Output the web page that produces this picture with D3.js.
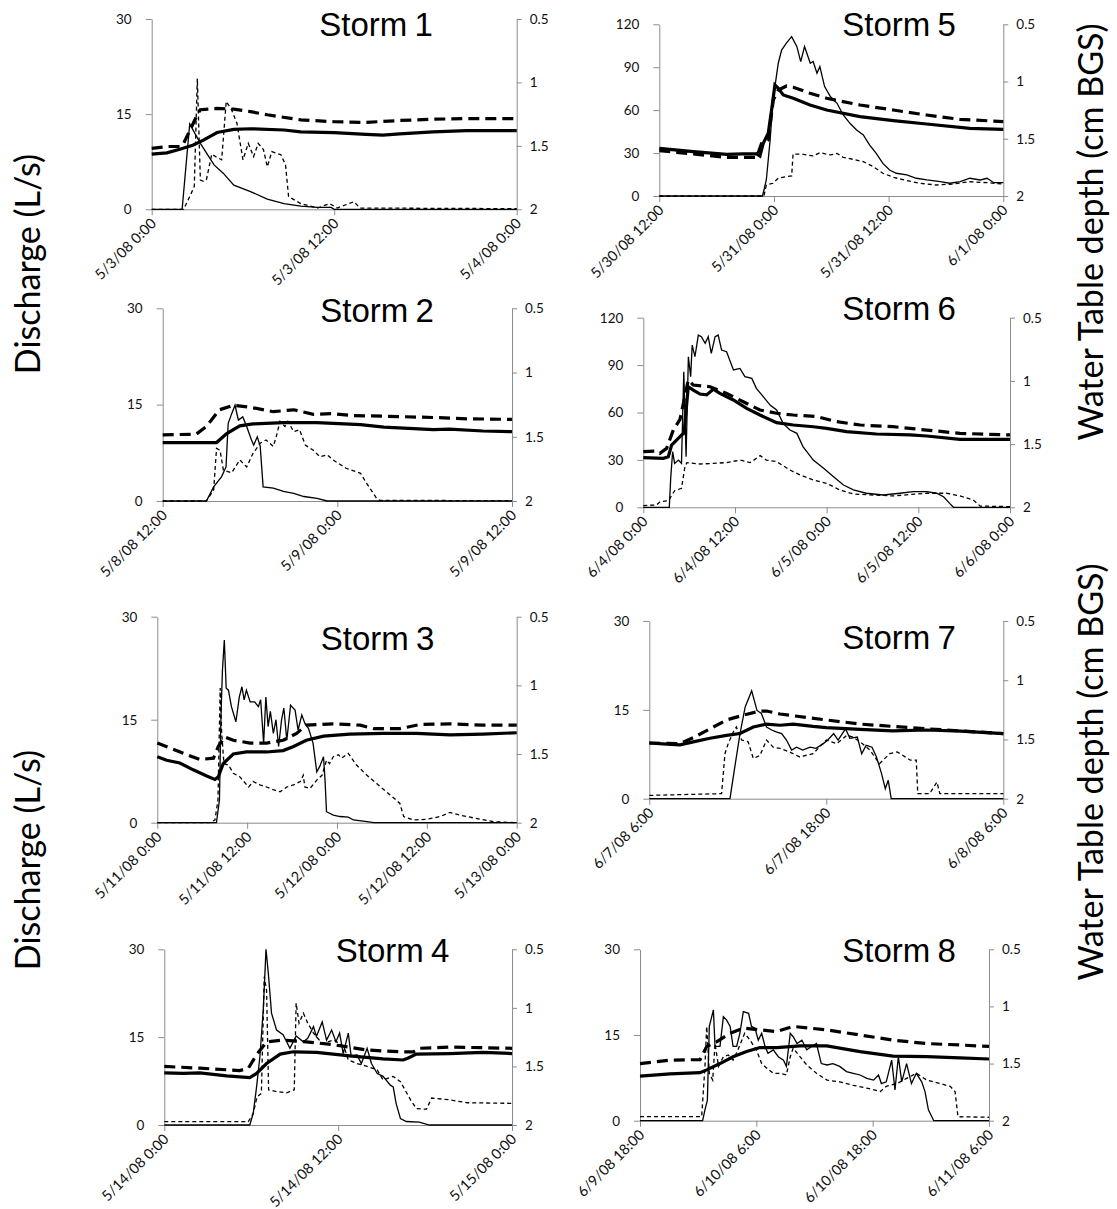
<!DOCTYPE html>
<html>
<head>
<meta charset="utf-8">
<script src="https://cdn.jsdelivr.net/npm/d3@7"></script>
<style>
body { margin: 0; background: #fff; }
svg { display: block; }
</style>
</head>
<body>
<script>

//****************************************************************************************************************************//
// Data : [hours since panel start, value]. Q = discharge (L/s), W = water table depth (right axis)

var s1QA = [[0,0],[2.0,0],[2.5,13.45],[3.2,10.4],[4.1,7.0],[4.7,5.7],[5.4,3.8],[6.5,2.8],[7.6,1.6],[8.7,0.9],[9.8,0.5],[10.9,0.3],[11.8,0.3],[12,0],[24,0]];
var s1QB = [[0,0],[2.1,0],[2.5,2.0],[2.8,3.6],[3.0,20.6],[3.2,4.6],[3.4,4.4],[3.6,4.7],[3.95,8.7],[4.2,8.3],[4.6,7.8],[4.9,17.0],[5.25,15.7],[5.6,13.6],[6.0,7.8],[6.35,10.4],[6.7,8.3],[7.0,10.4],[7.35,9.4],[7.6,6.7],[7.9,9.1],[8.5,8.6],[8.8,7.0],[9.0,2.0],[9.8,0.9],[10.9,0.2],[11.7,0.9],[12.2,0.2],[13.3,1.2],[13.7,0.2],[24,0.1]];
var s1WA = [[0,1.565],[1,1.555],[1.9,1.525],[2.7,1.495],[3.4,1.455],[4.3,1.395],[5.4,1.37],[6.5,1.365],[8.7,1.375],[9.8,1.39],[12,1.395],[14.1,1.41],[15.2,1.415],[16.3,1.405],[18.5,1.39],[20.7,1.38],[24,1.38]];
var s1WB = [[0,1.52],[1,1.505],[1.9,1.505],[2.1,1.48],[3.0,1.255],[3.2,1.215],[4.3,1.205],[5.4,1.21],[6.5,1.23],[7.6,1.255],[9.8,1.295],[12,1.31],[14.1,1.315],[16.3,1.30],[18.5,1.29],[20.7,1.285],[24,1.285]];

var s2QA = [[0,0],[3.0,0],[3.5,2.2],[4.05,3.8],[4.35,5.3],[4.5,12.1],[4.74,13.6],[4.97,14.9],[5.2,12.6],[5.5,13.1],[5.77,11.6],[6.1,9.5],[6.25,8.7],[6.5,10.0],[6.7,8.5],[6.9,2.2],[7.6,2.0],[8.3,1.5],[9.0,1.2],[9.7,0.7],[10.6,0.4],[11.3,0],[24,0]];
var s2QB = [[0,0],[3.0,0],[3.5,1.7],[3.7,8.2],[3.94,7.9],[4.17,4.8],[4.74,4.4],[5.3,6.4],[5.77,5.3],[6.2,7.4],[6.7,9.0],[7.1,9.5],[7.6,8.5],[7.8,10.0],[8.06,12.4],[8.4,11.6],[8.6,12.4],[9.0,10.8],[9.4,11.1],[9.8,8.7],[10.35,7.9],[10.8,6.9],[11.3,7.2],[11.7,6.4],[12.6,5.1],[13.6,4.3],[14.0,2.8],[14.7,0.4],[14.9,0.1],[24,0.05]];
var s2WA = [[0,1.545],[3.7,1.545],[4.4,1.475],[5.3,1.415],[6.2,1.40],[8.3,1.39],[10.6,1.39],[13.6,1.405],[15.2,1.425],[18.6,1.445],[19.7,1.44],[22.0,1.455],[24,1.46]];
var s2WB = [[0,1.485],[2.3,1.48],[3.0,1.42],[3.9,1.29],[4.85,1.255],[6.0,1.27],[7.6,1.305],[9.0,1.29],[10.35,1.325],[11.7,1.32],[13.1,1.335],[15.2,1.34],[18.6,1.35],[20.9,1.36],[24,1.365]];

var s3QA = [[0,0],[7.9,0],[8.3,3.3],[8.5,15.4],[8.7,22.2],[8.95,26.6],[9.2,19.6],[9.5,19.3],[9.9,16.9],[10.5,14.7],[10.95,18.3],[11.3,19.8],[11.6,17.9],[11.9,19.3],[12.4,17.6],[13.0,17.6],[13.5,16.9],[13.8,17.9],[14.2,11.6],[14.5,18.3],[14.8,14.0],[15.1,16.2],[15.5,13.0],[15.85,15.0],[16.2,11.1],[16.6,15.0],[16.9,16.7],[17.3,12.0],[17.8,17.1],[18.4,16.4],[18.8,13.5],[19.3,15.7],[19.7,14.5],[20.2,13.7],[20.8,11.6],[21.3,7.4],[21.7,8.2],[22.2,9.6],[22.4,6.2],[22.6,1.6],[23.5,1.1],[24.4,0.9],[25.5,0.8],[26.2,0.4],[28,0.15],[28.9,0],[48,0]];
var s3QB = [[0,0],[7.0,0],[7.7,0.4],[8.1,3.3],[8.4,19.6],[8.6,13.0],[8.9,8.6],[9.5,8.4],[10.15,7.2],[11.0,6.7],[12.2,5.2],[12.8,6.0],[13.7,5.5],[14.6,5.2],[15.5,4.8],[16.4,4.5],[17.3,5.2],[18.2,5.5],[19.1,6.0],[19.5,6.9],[19.7,5.2],[20.4,5.0],[21.3,6.2],[22.0,6.9],[22.6,9.1],[23.0,8.6],[23.5,9.6],[24.2,9.9],[24.6,9.4],[25.5,10.1],[26.6,8.4],[28,6.9],[29.3,5.7],[30.6,4.5],[31.7,3.5],[32.4,2.8],[32.9,0.9],[34.2,0.4],[36,0.5],[37.8,0.9],[39.1,1.5],[40.4,1.1],[42.7,0.6],[44.9,0.15],[48,0]];
var s3WA = [[0,1.52],[1.25,1.545],[3.0,1.565],[4.8,1.615],[6.6,1.66],[7.7,1.685],[8.15,1.665],[8.8,1.57],[10.15,1.50],[11.9,1.485],[14.6,1.485],[16.8,1.475],[18.2,1.445],[19.9,1.40],[22.2,1.37],[25.7,1.355],[30.2,1.35],[34.6,1.35],[39.1,1.36],[43.5,1.355],[48,1.345]];
var s3WB = [[0,1.42],[3.5,1.495],[5.7,1.54],[7.5,1.53],[8.15,1.445],[9.0,1.375],[10.15,1.40],[12.4,1.42],[14.6,1.42],[16.8,1.40],[18.6,1.35],[19.9,1.29],[23.5,1.28],[27.1,1.29],[28.9,1.315],[32.4,1.315],[35.1,1.285],[39.1,1.28],[43.5,1.29],[48,1.29]];

var s4QA = [[0,0],[5.9,0],[6.14,2.0],[6.37,6.5],[6.6,11.7],[6.83,19.6],[7.02,30],[7.18,25.9],[7.4,19.1],[7.75,16.2],[8.2,15.4],[8.67,13.1],[9.1,15.2],[9.6,14.2],[9.9,14.8],[10.3,16.8],[10.5,15.1],[10.9,17.6],[11.2,14.5],[11.55,16.2],[11.85,14.2],[12.1,15.7],[12.35,12.2],[12.7,15.7],[12.9,11.7],[13.3,12.0],[13.6,10.5],[14.0,13.1],[14.3,10.5],[14.7,8.8],[15.1,8.3],[15.6,6.8],[15.8,6.5],[16.0,3.7],[16.3,1.1],[16.7,0.6],[17.6,0.5],[18.3,0],[24,0]];
var s4QB = [[0,0.57],[5.8,0.57],[6.14,2.0],[6.4,4.8],[6.7,5.4],[6.9,25.3],[7.06,23.0],[7.2,6.0],[7.75,5.7],[8.45,5.5],[8.97,6.0],[9.1,20.8],[9.3,17.4],[9.6,19.1],[9.9,17.4],[10.3,15.7],[10.9,13.9],[11.7,14.5],[12.4,13.4],[12.7,11.1],[13.3,10.5],[14.0,10.0],[14.7,9.4],[15.1,7.7],[15.8,8.3],[16.3,7.4],[17.0,4.3],[17.4,2.8],[18.1,2.7],[18.45,4.6],[19.7,4.3],[20.9,3.8],[24,3.7]];
var s4WA = [[0,1.555],[1.3,1.56],[2.46,1.555],[4.3,1.58],[5.9,1.595],[6.37,1.56],[7.06,1.475],[8.0,1.395],[8.9,1.375],[10.5,1.38],[12.8,1.41],[15.1,1.435],[16.5,1.445],[16.8,1.43],[17.4,1.395],[19.7,1.39],[22.0,1.38],[24,1.39]];
var s4WB = [[0,1.50],[2.46,1.515],[5.2,1.535],[5.8,1.515],[6.37,1.40],[7.06,1.29],[8.2,1.275],[9.8,1.29],[11.7,1.315],[14.0,1.36],[16.3,1.375],[17.2,1.375],[17.6,1.345],[19.7,1.335],[24,1.345]];

var s5QA = [[0,0],[10.8,0],[11.2,11.2],[11.6,39.2],[11.9,67],[12.45,92.8],[12.8,102],[13.3,106.8],[13.85,111.4],[14.4,104.4],[14.8,93.9],[15.2,104.4],[15.8,92.8],[16.1,94],[16.5,85.8],[16.8,90.4],[17.3,76.5],[17.9,69.5],[18.6,64.8],[19.25,56.6],[19.95,50.8],[20.65,46.2],[21.35,42.7],[22.0,35.7],[22.7,29.8],[23.4,22.8],[24.1,18.2],[24.8,15.9],[25.9,14.7],[26.9,12.4],[28.0,11.2],[29.4,10.0],[30.4,8.9],[31.5,10.0],[32.5,12.4],[33.6,11.2],[34.3,12.4],[35,9.3],[36,9.3]];
var s5QB = [[0,0],[10.95,0],[11.2,7.7],[11.9,8.9],[12.45,12.4],[13.3,13.5],[13.85,14.0],[14.0,29.4],[15.1,29.1],[16.1,28.0],[16.8,30.3],[17.9,28.7],[18.6,29.8],[19.25,27.0],[20.3,25.6],[21.35,24.0],[22.4,20.5],[23.4,15.9],[24.5,13.1],[25.9,10.7],[27.3,8.9],[29.0,7.7],[30.8,8.4],[32.5,10.0],[34.3,9.3],[36,8.4]];
var s5WA = [[0,1.584],[3.56,1.6125],[7.05,1.636],[8.79,1.6325],[10.18,1.6325],[10.53,1.65],[10.88,1.54],[11.4,1.4525],[11.75,1.249],[12.1,1.03],[12.45,1.059],[12.97,1.1175],[14.02,1.146],[15.77,1.205],[17.51,1.249],[21.0,1.306],[24.49,1.341],[27.97,1.371],[32.5,1.409],[36,1.4175]];
var s5WB = [[0,1.604],[3.56,1.6325],[7.05,1.6625],[10.18,1.6625],[10.7,1.54],[11.4,1.51],[11.93,1.161],[12.45,1.074],[13.32,1.039],[14.02,1.05],[15.77,1.1025],[17.51,1.146],[21.0,1.205],[24.49,1.249],[27.97,1.2925],[31.46,1.33],[36,1.35]];

var s6QA = [[0,0],[3.4,0],[3.6,19.4],[3.84,35.2],[4.1,27.8],[4.6,29.9],[5.0,27.8],[5.3,85.8],[5.6,32],[5.9,95.3],[6.2,82.7],[6.4,102.7],[6.76,95.3],[7.2,109],[7.6,108],[8.1,103.8],[8.5,108],[8.9,97.4],[9.4,108],[9.8,109],[10.25,99.5],[10.9,98.5],[11.8,86.9],[12.65,87.9],[13.3,82.7],[14.2,81.6],[14.8,75.3],[15.7,70.0],[16.6,64.7],[17.45,61.6],[18.3,53.1],[19.2,48.9],[20.1,46.8],[20.9,38.4],[22.25,29.9],[23.6,24.7],[24.9,19.4],[26.2,14.1],[27.5,11.0],[29.2,8.9],[31.4,7.8],[33.6,8.9],[35.3,9.9],[37.1,9.9],[38.4,8.9],[39.3,6.7],[40.1,2.5],[40.6,0],[48,0]];
var s6QB = [[0,1.05],[1.75,1.5],[2.2,3.6],[3.3,4.2],[4.1,10.5],[5.0,12.0],[5.45,25.7],[5.7,28.3],[7.4,27.4],[9.2,27.8],[10.9,28.3],[12.65,29.9],[14.0,28.3],[15.3,32.7],[16.1,29.9],[17.45,28.9],[19.2,23.6],[20.5,20.5],[22.25,17.3],[24.0,15.2],[25.7,11.0],[27.5,8.4],[30.1,7.8],[32.7,7.2],[37.1,8.9],[39.7,8.9],[41.45,7.2],[43.2,4.6],[44.1,0.8],[48,0.4]];
var s6WA = [[0,1.6075],[2.62,1.6125],[3.27,1.60],[3.71,1.5075],[5.02,1.4275],[5.32,1.415],[5.89,1.046],[6.54,1.0725],[7.42,1.104],[8.29,1.111],[9.16,1.066],[10.03,1.099],[11.78,1.151],[13.53,1.2175],[15.27,1.27],[17.45,1.33],[19.63,1.349],[22.25,1.3625],[24.0,1.375],[26.6,1.401],[30.5,1.42],[34.9,1.4275],[37.1,1.436],[41.45,1.4625],[48,1.4625]];
var s6WB = [[0,1.56],[1.75,1.555],[2.18,1.5725],[3.05,1.534],[3.93,1.389],[4.8,1.304],[5.89,0.9925],[6.54,1.0325],[8.73,1.046],[10.91,1.099],[13.09,1.165],[15.27,1.23],[17.45,1.256],[19.63,1.27],[22.69,1.2825],[25.3,1.3225],[28.4,1.349],[32.7,1.3625],[37.1,1.389],[41.45,1.415],[48,1.4275]];

var s7QA = [[0,0],[5.47,0],[5.8,5.4],[6.15,11.0],[6.5,15.5],[6.94,18.2],[7.3,14.9],[7.6,14.4],[7.95,12.1],[8.3,11.6],[8.6,11.3],[8.97,11.0],[9.3,9.9],[9.65,8.2],[9.99,8.7],[10.4,8.2],[10.9,8.7],[11.3,8.5],[11.8,9.3],[12.1,9.9],[12.5,11.0],[12.8,9.9],[13.3,11.8],[13.6,10.2],[14.1,10.4],[14.4,7.6],[14.7,9.0],[15.1,8.7],[15.4,7.05],[15.75,4.2],[16.0,1.7],[16.2,3.1],[16.4,0],[24,0]];
var s7QB = [[0,0.56],[4.9,0.85],[5.13,7.6],[5.35,9.3],[5.7,11.3],[5.9,12.1],[6.26,9.9],[6.7,9.6],[7.05,6.8],[7.5,7.3],[7.95,9.9],[8.4,8.7],[8.86,8.5],[9.5,7.9],[10.2,7.05],[11.1,7.6],[12.0,9.9],[12.7,9.3],[13.4,10.7],[13.8,10.4],[14.3,9.6],[14.96,8.2],[15.6,5.9],[16.3,7.6],[16.8,7.9],[17.2,7.3],[17.7,6.5],[18.1,6.5],[18.2,0.85],[19.0,0.85],[19.5,2.8],[19.7,0.85],[24,0.85]];
var s7WA = [[0,1.53],[1.18,1.54],[2.08,1.545],[2.98,1.52],[4.11,1.49],[5.24,1.465],[6.15,1.45],[7.05,1.395],[7.95,1.37],[8.86,1.38],[9.76,1.37],[11.1,1.39],[12.0,1.40],[14.3,1.415],[16.5,1.4275],[18.8,1.42],[21.1,1.43],[24,1.45]];
var s7WB = [[0,1.53],[2.08,1.535],[2.98,1.485],[4.11,1.41],[5.24,1.335],[6.37,1.295],[7.5,1.26],[7.95,1.26],[8.86,1.285],[9.76,1.30],[12.0,1.335],[14.3,1.37],[16.5,1.39],[18.8,1.41],[21.1,1.4275],[24,1.45]];

var s8QA = [[0,0],[6.46,0],[6.7,1.9],[6.95,3.6],[7.15,16.5],[7.4,18.2],[7.57,19.4],[7.74,13.0],[8.25,13.0],[8.6,18.2],[8.94,17.6],[9.3,16.5],[9.6,13.0],[9.97,13.0],[10.3,15.3],[10.66,19.1],[11.2,18.8],[11.5,16.5],[11.86,16.2],[12.2,14.1],[12.55,15.3],[12.9,13.0],[13.2,11.8],[13.75,12.4],[14.27,11.2],[14.8,10.6],[15.1,9.5],[15.5,15.3],[15.8,14.7],[16.2,13.5],[16.7,14.1],[17.2,12.4],[17.7,13.0],[18.2,13.5],[18.7,10.0],[19.3,9.75],[19.9,10.0],[20.6,9.5],[21.3,8.6],[22.0,8.3],[22.7,8.0],[23.4,7.4],[24.1,7.1],[24.6,8.0],[24.9,6.5],[25.4,6.8],[25.96,10.6],[26.3,5.4],[26.65,11.2],[27.0,6.8],[27.5,10.0],[28.0,6.5],[28.5,8.3],[29.06,6.8],[29.4,5.1],[29.75,1.9],[30.3,0],[36,0]];
var s8QB = [[0,0.7],[6.36,0.7],[6.7,9.5],[6.88,16.5],[7.15,8.3],[7.5,7.1],[7.74,13.5],[8.1,9.5],[8.6,11.2],[9.1,11.5],[9.6,10.6],[10.1,12.4],[10.8,15.3],[11.35,14.1],[12.0,12.4],[12.55,10.0],[13.07,9.2],[13.75,8.3],[14.4,8.3],[15.1,8.0],[15.5,11.2],[15.8,12.7],[16.5,11.2],[17.2,9.75],[18.2,8.3],[19.3,7.1],[20.6,6.8],[22.0,6.2],[23.4,5.7],[24.8,5.1],[25.4,6.0],[26.5,6.5],[27.5,7.4],[28.5,8.3],[29.6,7.1],[30.95,6.5],[32.0,6.0],[32.5,5.1],[32.8,0.7],[36,0.6]];
var s8WA = [[0,1.61],[3.1,1.59],[6.19,1.58],[6.88,1.555],[8.25,1.50],[9.6,1.44],[11.0,1.395],[12.38,1.36],[14.1,1.36],[16.5,1.345],[19.26,1.345],[22.7,1.395],[26.1,1.435],[29.6,1.44],[33.0,1.45],[36,1.46]];
var s8WB = [[0,1.50],[3.1,1.47],[6.19,1.465],[6.88,1.35],[7.9,1.31],[9.28,1.235],[10.66,1.19],[12.38,1.205],[14.1,1.22],[15.8,1.175],[19.26,1.205],[22.7,1.25],[26.1,1.295],[29.6,1.325],[33.0,1.3375],[36,1.35]];

// tick values
var qTicksSmall = [0, 15, 30];
var qTicksLarge = [0, 30, 60, 90, 120];
var depthTicks = [0.5, 1, 1.5, 2];

var stormNames = ["Storm 1", "Storm 2", "Storm 3", "Storm 4", "Storm 5", "Storm 6", "Storm 7", "Storm 8"];
var stormStarts = ["2008-05-03T00:00", "2008-05-08T12:00", "2008-05-11T00:00", "2008-05-14T00:00",
                   "2008-05-30T12:00", "2008-06-04T00:00", "2008-06-07T06:00", "2008-06-09T18:00"];
var stormHours = [24, 24, 48, 24, 36, 48, 24, 36];

//****************************************************************************************************************************//
// Layout

var width = 1117, height = 1209;

var panels = [
	{ left: 151.7, right: 516.7, top: 19,    bottom: 209.3,  tx: 376,   ty: 36 },
	{ left: 162.7, right: 512,   top: 308.3, bottom: 501,    tx: 377,   ty: 322 },
	{ left: 157.3, right: 516.7, top: 616.7, bottom: 822.7,  tx: 377.5, ty: 650 },
	{ left: 164.3, right: 512,   top: 949.3, bottom: 1125,   tx: 392.5, ty: 962 },
	{ left: 659.3, right: 1003.3, top: 24.3, bottom: 196,    tx: 899,   ty: 36 },
	{ left: 643.3, right: 1010,  top: 317.7, bottom: 507.3,  tx: 899,   ty: 320 },
	{ left: 649.3, right: 1003.3, top: 621,  bottom: 798.7,  tx: 899,   ty: 649 },
	{ left: 640,   right: 989,   top: 949.3, bottom: 1120.7, tx: 899,   ty: 962 }
];

var storms = [
	{ qTicks: qTicksSmall, qA: s1QA, qB: s1QB, wA: s1WA, wB: s1WB },
	{ qTicks: qTicksSmall, qA: s2QA, qB: s2QB, wA: s2WA, wB: s2WB },
	{ qTicks: qTicksSmall, qA: s3QA, qB: s3QB, wA: s3WA, wB: s3WB },
	{ qTicks: qTicksSmall, qA: s4QA, qB: s4QB, wA: s4WA, wB: s4WB },
	{ qTicks: qTicksLarge, qA: s5QA, qB: s5QB, wA: s5WA, wB: s5WB },
	{ qTicks: qTicksLarge, qA: s6QA, qB: s6QB, wA: s6WA, wB: s6WB },
	{ qTicks: qTicksSmall, qA: s7QA, qB: s7QB, wA: s7WA, wB: s7WB },
	{ qTicks: qTicksSmall, qA: s8QA, qB: s8QB, wA: s8WA, wB: s8WB }
];

var axisColor = "#8c8c8c";
var labelFont = "Lato, 'Open Sans', sans-serif";
var titleFont = "'Liberation Sans', Arial, sans-serif";
var dateFormat = d3.timeFormat("%-m/%-d/%y %-H:%M");

var canvas = d3.select("body").append("svg")
				.attr("width", width)
				.attr("height", height);

canvas.append("rect")
		.attr("width", width)
		.attr("height", height)
		.attr("fill", "white");

storms.forEach(function(s, i){ drawStorm(s, i, panels[i]); });

//****************************************************************************************************************************//
// Axis titles

var axisTitles = [
	{ text: "Discharge (L/s)",            x: 40,   y: 264 },
	{ text: "Discharge (L/s)",            x: 40,   y: 860 },
	{ text: "Water Table depth (cm BGS)", x: 1103, y: 232 },
	{ text: "Water Table depth (cm BGS)", x: 1103, y: 772 }
];

axisTitles.forEach(function(t){
	canvas.append("text")
		.attr("transform", "translate(" + t.x + "," + t.y + ") rotate(-90)")
		.attr("text-anchor", "middle")
		.style("font-family", labelFont)
		.style("font-size", "34px")
		.text(t.text);
});

//****************************************************************************************************************************//
// One storm panel

function drawStorm(s, i, p){

	var start = new Date(stormStarts[i]);
	var hours = stormHours[i];
	var toDate = function(h){ return new Date(start.getTime() + h*3600e3); };

	var x = d3.scaleTime()
				.domain([start, toDate(hours)])
				.range([p.left, p.right]);

	var yQ = d3.scaleLinear()
				.domain([0, s.qTicks[s.qTicks.length-1]])
				.range([p.bottom, p.top]);

	var yD = d3.scaleLinear()
				.domain([2, 0.5])
				.range([p.bottom, p.top]);

	var pane = canvas.append("g");

	// left axis
	var leftAxis = pane.append("g")
				.attr("transform", "translate(" + p.left + ",0)")
				.call(d3.axisLeft(yQ).tickValues(s.qTicks).tickSize(6).tickSizeOuter(0).tickPadding(14));

	// right axis
	var rightAxis = pane.append("g")
				.attr("transform", "translate(" + p.right + ",0)")
				.call(d3.axisRight(yD).tickValues(depthTicks).tickFormat(String).tickSize(5).tickSizeOuter(0).tickPadding(8));

	// bottom axis
	var bottomAxis = pane.append("g")
				.attr("transform", "translate(0," + p.bottom + ")")
				.call(d3.axisBottom(x)
						.tickValues(d3.range(0, hours + 1, 12).map(toDate))
						.tickFormat(dateFormat)
						.tickSize(6)
						.tickSizeOuter(0));

	bottomAxis.selectAll("text")
				.attr("y", 0)
				.attr("dy", 0)
				.attr("text-anchor", "end")
				.attr("transform", "translate(5,15) rotate(-45)")
				.style("font-size", "14.5px");

	[leftAxis, rightAxis, bottomAxis].forEach(function(a){
		a.select(".domain").attr("stroke", axisColor);
		a.selectAll(".tick line").attr("stroke", axisColor);
		a.selectAll("text")
			.attr("fill", "#111")
			.style("font-family", labelFont);
	});
	leftAxis.selectAll("text").style("font-size", "13.5px");
	rightAxis.selectAll("text").style("font-size", "13.5px");

	var qLine = d3.line()
				.x(function(d){ return x(toDate(d[0])); })
				.y(function(d){ return yQ(d[1]); });

	var wLine = d3.line()
				.x(function(d){ return x(toDate(d[0])); })
				.y(function(d){ return yD(d[1]); });

	pane.append("path").datum(s.wB)
		.attr("d", wLine).attr("fill", "none").attr("stroke", "#000")
		.attr("stroke-width", 3.2).attr("stroke-dasharray", "11,6");

	pane.append("path").datum(s.wA)
		.attr("d", wLine).attr("fill", "none").attr("stroke", "#000")
		.attr("stroke-width", 3.2);

	pane.append("path").datum(s.qB)
		.attr("d", qLine).attr("fill", "none").attr("stroke", "#000")
		.attr("stroke-width", 1.3).attr("stroke-dasharray", "4,3");

	pane.append("path").datum(s.qA)
		.attr("d", qLine).attr("fill", "none").attr("stroke", "#000")
		.attr("stroke-width", 1.3);

	pane.append("text")
		.attr("x", p.tx)
		.attr("y", p.ty)
		.attr("text-anchor", "middle")
		.style("font-family", titleFont)
		.style("font-size", "33px")
		.style("word-spacing", "-2px")
		.text(stormNames[i]);
}

</script>
</body>
</html>
